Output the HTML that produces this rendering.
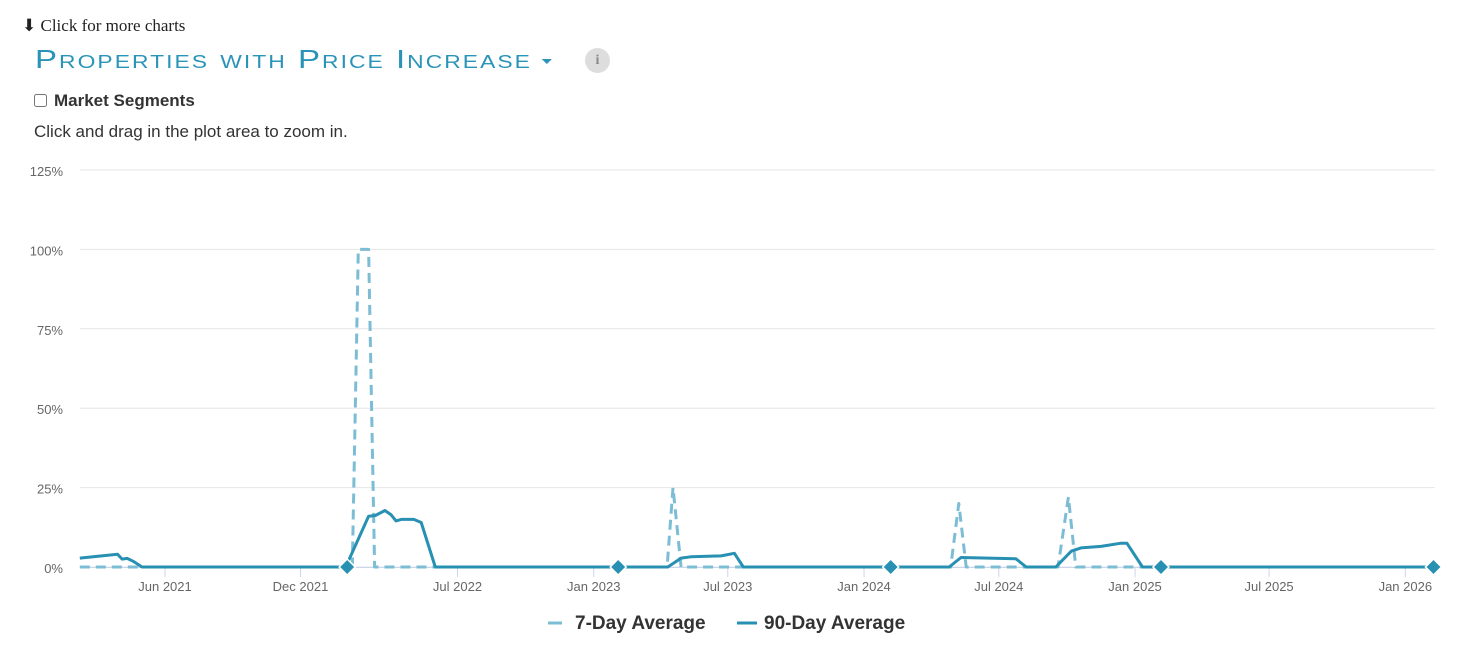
<!DOCTYPE html>
<html><head><meta charset="utf-8">
<style>
html,body{margin:0;padding:0;background:#fff;width:1484px;height:655px;overflow:hidden;font-family:"Liberation Sans",sans-serif;}
#more{position:absolute;left:22px;top:16px;font-family:"Liberation Serif",serif;font-size:17px;color:#222;}
#title{position:absolute;left:35px;top:44px;font-size:26px;color:#2a93b8;font-variant:small-caps;letter-spacing:1.6px;white-space:nowrap;transform:scaleX(1.27);transform-origin:0 0;}
#caret{display:inline-block;width:0;height:0;border-left:4px solid transparent;border-right:4px solid transparent;border-top:5px solid #2a93b8;vertical-align:middle;margin-left:8px;}
#info{position:absolute;left:585px;top:48px;width:25px;height:25px;border-radius:50%;background:#ddd;color:#888;font-family:"Liberation Serif",serif;font-weight:bold;font-size:14px;text-align:center;line-height:25px;}
#seg{position:absolute;left:34px;top:91px;font-size:17px;font-weight:bold;color:#333;}
#seg input{margin:0 7px 0 0;width:13px;height:13px;vertical-align:-1px;}
#hint{position:absolute;left:34px;top:122px;font-size:17px;color:#333;}
svg{position:absolute;left:0;top:0;}
</style></head><body>
<div id="more">&#x2B07; Click for more charts</div>
<div id="title">Properties with Price Increase<span id="caret"></span></div>
<div id="info">i</div>
<label id="seg"><input type="checkbox">Market Segments</label>
<div id="hint">Click and drag in the plot area to zoom in.</div>
<svg id="chart" width="1484" height="655"></svg>
<script>
const yTicks=[0,25,50,75,100,125];
const xTickDates=["2021-06-01","2021-12-01","2022-07-01","2023-01-01","2023-07-01","2024-01-01","2024-07-01","2025-01-01","2025-07-01","2026-01-01"];
const xTickLabels=["Jun 2021","Dec 2021","Jul 2022","Jan 2023","Jul 2023","Jan 2024","Jul 2024","Jan 2025","Jul 2025","Jan 2026"];
const dates7=["2021-02-06","2022-02-09","2022-02-17","2022-03-03","2022-03-11","2023-04-10","2023-04-18","2023-04-29","2024-04-27","2024-05-08","2024-05-18","2024-09-19","2024-10-03","2024-10-13","2026-02-10"];
const values7=[0,0,100,100,0,0,25,0,0,20,0,0,22,0,0];
const dates90=["2021-02-06","2021-03-29","2021-04-04","2021-04-11","2021-04-19","2021-05-01","2022-01-31","2022-03-03","2022-03-12","2022-03-25","2022-04-02","2022-04-09","2022-04-16","2022-05-03","2022-05-13","2022-06-01","2023-04-11","2023-04-29","2023-05-12","2023-06-22","2023-07-10","2023-07-22","2024-04-25","2024-05-11","2024-07-24","2024-08-07","2024-09-16","2024-10-07","2024-10-20","2024-11-16","2024-12-13","2024-12-21","2025-01-11","2026-02-10"];
const values90=[2.8,4.0,2.5,2.7,1.8,0,0,16,16.2,17.8,16.5,14.5,15,15,14,0,0,2.8,3.2,3.5,4.3,0,0,3,2.6,0,0,5,6,6.5,7.5,7.5,0,0];
const flagDates=["2022-02-02","2023-02-03","2024-02-06","2025-02-05","2026-02-08"];

const NS="http://www.w3.org/2000/svg";
const svg=document.getElementById('chart');
const L=80,R=1435,Y0=567,YT=170;
const DAY=86400000, ref=Date.parse("2021-06-01"), PXD=0.7405;
function xs(d){return 165+(Date.parse(d)-ref)/DAY*PXD;}
function ys(v){return Y0-(v/125)*(Y0-YT);}
function mk(tag,attrs,parent){const e=document.createElementNS(NS,tag);for(const k in attrs)e.setAttribute(k,attrs[k]);(parent||svg).appendChild(e);return e;}

const grid=mk('g',{});


yTicks.forEach(v=>{
  const ln=mk('line',{x1:L,x2:R,y1:ys(v),y2:ys(v),stroke:'#e6e6e6','stroke-width':1},grid);
  
  
  const t=mk('text',{x:63,y:ys(v)+6,'text-anchor':'end','font-size':13,fill:'#666','font-family':'Liberation Sans, sans-serif'});
  t.textContent=v+'%';
  
  
});
const ax=mk('line',{x1:L,x2:R,y1:Y0+0.5,y2:Y0+0.5,stroke:'#ccd6eb','stroke-width':1});


xTickDates.forEach((d,i)=>{
  const x=xs(d);
  const tk=mk('line',{x1:x,x2:x,y1:Y0,y2:Y0+10,stroke:'#ccd6eb','stroke-width':1});
  
  
  const t=mk('text',{x:x,y:Y0+24,'text-anchor':'middle','font-size':13,fill:'#666','font-family':'Liberation Sans, sans-serif'});
  t.textContent=xTickLabels[i];
  
  
});
function pts(ds,vs){return ds.map((d,i)=>xs(d).toFixed(1)+','+ys(vs[i]).toFixed(1)).join(' ');}
const s7=mk('polyline',{points:pts(dates7,values7),fill:'none',stroke:'#7cbdd5','stroke-width':3,'stroke-dasharray':'10,6','stroke-linejoin':'round'});


const s90=mk('polyline',{points:pts(dates90,values90),fill:'none',stroke:'#2790b3','stroke-width':3,'stroke-linejoin':'round'});


flagDates.forEach(d=>{
  const x=xs(d),y=Y0;
  const p=mk('path',{d:`M${x} ${y-8}L${x+8} ${y}L${x} ${y+8}L${x-8} ${y}Z`,fill:'#2790b3',stroke:'#fff','stroke-width':1.5});
  
  
});
const lg=mk('g',{});


const l1=mk('g',{},lg);


mk('line',{x1:548,x2:562,y1:623,y2:623,stroke:'#7cbdd5','stroke-width':3},l1);
const t1=mk('text',{x:575,y:629,'font-size':19,'font-weight':'bold',fill:'#333','font-family':'Liberation Sans, sans-serif'},l1);
t1.textContent='7-Day Average';
const l2=mk('g',{},lg);


mk('line',{x1:737,x2:757,y1:623,y2:623,stroke:'#2790b3','stroke-width':3},l2);
const t2=mk('text',{x:764,y:629,'font-size':19,'font-weight':'bold',fill:'#333','font-family':'Liberation Sans, sans-serif'},l2);
t2.textContent='90-Day Average';
</script>
</body></html>
